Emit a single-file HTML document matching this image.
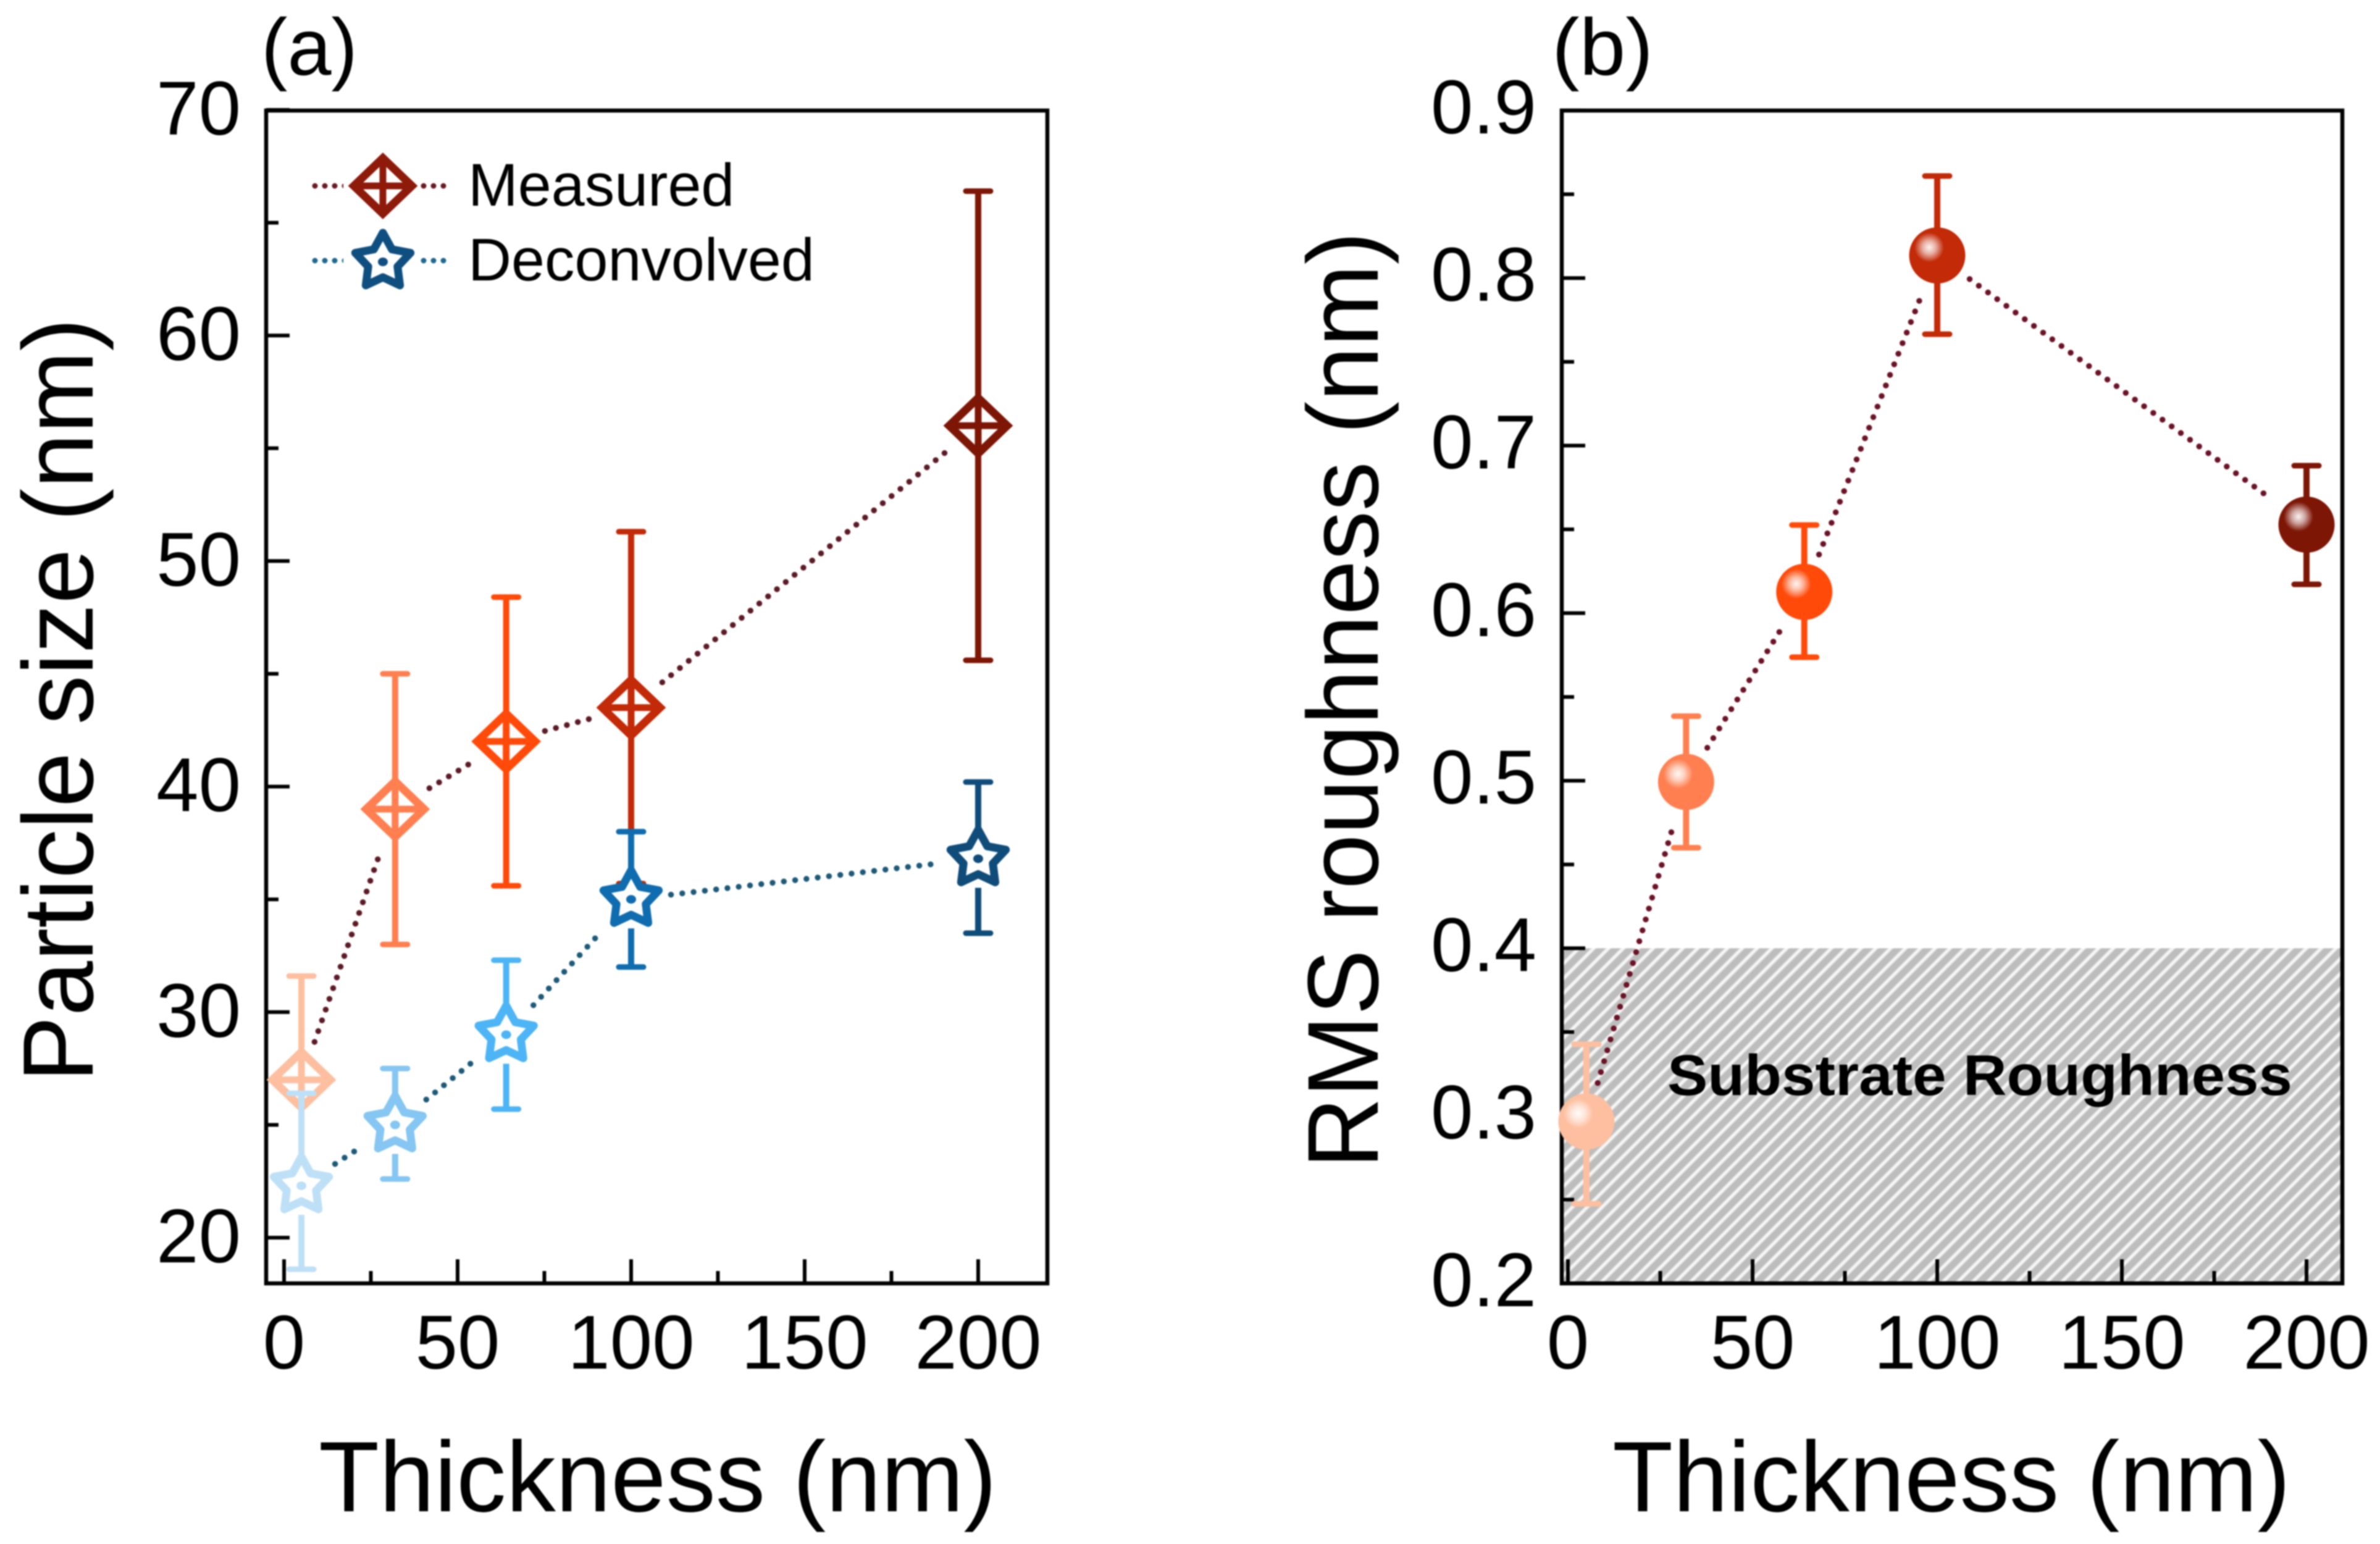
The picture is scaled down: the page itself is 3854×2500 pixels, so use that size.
<!DOCTYPE html>
<html lang="en">
<head>
<meta charset="utf-8">
<title>Particle size and RMS roughness versus thickness</title>
<style>
  html, body { margin: 0; padding: 0; background: #fff; }
  svg { display: block; filter: blur(1px); }
  text { font-family: "Liberation Sans", sans-serif; fill: #000; }
</style>
</head>
<body>
<svg id="figure" xmlns="http://www.w3.org/2000/svg" width="3854" height="2500" viewBox="0 0 3854 2500">
  <defs>
    <pattern id="hatch" patternUnits="userSpaceOnUse" width="17" height="17" patternTransform="rotate(45)">
      <rect width="17" height="17" fill="#bdbdbd"></rect>
      <rect width="7" height="17" fill="#dadada"></rect>
      <rect x="1.5" width="4" height="17" fill="#f6f6f6"></rect>
    </pattern>
    <radialGradient id="shine">
      <stop offset="0" stop-color="#fff" stop-opacity="0.95"></stop>
      <stop offset="0.45" stop-color="#fff" stop-opacity="0.62"></stop>
      <stop offset="1" stop-color="#fff" stop-opacity="0"></stop>
    </radialGradient>
  </defs>
  <rect width="3854" height="2500" fill="#fff"></rect>

  <g id="panel-a">
    <text x="423" y="121" font-size="130" textLength="156" lengthAdjust="spacingAndGlyphs">(a)</text>
    <text transform="translate(150 1752) rotate(-90)" font-size="162" textLength="1237" lengthAdjust="spacingAndGlyphs">Particle size (nm)</text>
    <text x="516" y="2447" font-size="162" textLength="1098" lengthAdjust="spacingAndGlyphs">Thickness (nm)</text>
    <g id="a-axes"></g>
    <g id="a-series"></g>
    <g>
      <line x1="510" y1="301" x2="724" y2="301" stroke="#6b1a22" stroke-width="9" stroke-linecap="round" stroke-dasharray="0 16"></line>
      <line x1="510" y1="422" x2="724" y2="422" stroke="#1d6a8e" stroke-width="9" stroke-linecap="round" stroke-dasharray="0 16"></line>
      <g id="legend-markers"></g>
      <text x="758" y="333" font-size="97">Measured</text>
      <text x="758" y="454" font-size="97">Deconvolved</text>
    </g>
  </g>

  <g id="panel-b">
    <text x="2513" y="121" font-size="130" textLength="164" lengthAdjust="spacingAndGlyphs">(b)</text>
    <text transform="translate(2231 1892) rotate(-90)" font-size="163" textLength="1517" lengthAdjust="spacingAndGlyphs">RMS roughness (nm)</text>
    <text x="2611" y="2447" font-size="162" textLength="1098" lengthAdjust="spacingAndGlyphs">Thickness (nm)</text>
    <g id="b-hatch"></g>
    <g id="b-axes"></g>
    <text x="2700" y="1773" font-size="93" font-weight="700" textLength="1012" lengthAdjust="spacingAndGlyphs">Substrate Roughness</text>
    <g id="b-series"></g>
  </g>
</svg>

<script>
// ---- Panel (a) data ----
const thicknessA = [5, 32, 64, 100, 200];
const measuredSize = [27, 39, 42, 43.5, 56];
const measuredHigh = [31.6, 45, 48.4, 51.3, 66.4];
const measuredLow = [22.4, 33, 35.6, 35.7, 45.6];
const deconvolvedSize = [22.3, 25, 29, 35, 36.8];
const deconvolvedHigh = [26.4, 27.5, 32.3, 38, 40.2];
const deconvolvedLow = [18.6, 22.6, 25.7, 32, 33.5];
const aXMajor = [0, 50, 100, 150, 200];
const aXMinor = [25, 75, 125, 175];
const aYMajor = [20, 30, 40, 50, 60, 70];
const aYMinor = [25, 35, 45, 55, 65];
const aXLabels = ['0', '50', '100', '150', '200'];
const aYLabels = ['20', '30', '40', '50', '60', '70'];

// ---- Panel (b) data ----
const thicknessB = [5, 32, 64, 100, 200];
const roughness = [0.2966, 0.4993, 0.6127, 0.8135, 0.6528];
const roughnessHigh = [0.3427, 0.5385, 0.6526, 0.8609, 0.688];
const roughnessLow = [0.2475, 0.46, 0.5737, 0.7665, 0.6172];
const substrateLimit = 0.4;
const bXMajor = [0, 50, 100, 150, 200];
const bXMinor = [25, 75, 125, 175];
const bYMajor = [0.2, 0.3, 0.4, 0.5, 0.6, 0.7, 0.8, 0.9];
const bYMinor = [0.25, 0.35, 0.45, 0.55, 0.65, 0.75, 0.85];
const bXLabels = ['0', '50', '100', '150', '200'];
const bYLabels = ['0.2', '0.3', '0.4', '0.5', '0.6', '0.7', '0.8', '0.9'];

// ---- Colour ramps ----
const warmRamp = ['#fdbf9f', '#ff7f50', '#ff4a0a', '#c22a08', '#7e1606'];
const coolRamp = ['#bee0f7', '#85c6f2', '#4db5f5', '#0f6cae', '#0f4c7a'];

// ---- Axis functions ----
const ax = v => 460 + 5.62 * v;
const ay = v => 2004 - 36.52 * (v - 20);
const bx = v => 2539 + 5.98 * v;
const by = v => 2078 - 2713 * (v - 0.2);

const NS = 'http://www.w3.org/2000/svg';
function mk(tag, attrs, parent) {
  const el = document.createElementNS(NS, tag);
  for (const k in attrs) el.setAttribute(k, attrs[k]);
  parent.appendChild(el);
  return el;
}

function drawAxes(parent, box, xf, yf, xMaj, xMin, yMaj, yMin, xLab, yLab, labelRight, yShift) {
  xMaj.forEach((v, i) => {
    const t = mk('line', { x1: xf(v), x2: xf(v), y1: box.b, y2: box.b - 39, stroke: '#000', 'stroke-width': 6 }, parent);
    
    
    const l = mk('text', { x: xf(v), y: 2216, 'font-size': 123, 'text-anchor': 'middle' }, parent);
    
    
    l.textContent = xLab[i];
  });
  xMin.forEach(v => {
    const t = mk('line', { x1: xf(v), x2: xf(v), y1: box.b, y2: box.b - 20, stroke: '#000', 'stroke-width': 6 }, parent);
    
    
  });
  yMaj.forEach((v, i) => {
    const t = mk('line', { x1: box.l, x2: box.l + 38, y1: yf(v), y2: yf(v), stroke: '#000', 'stroke-width': 6 }, parent);
    
    
    const l = mk('text', { x: labelRight, y: yf(v) + yShift, 'font-size': 123, 'text-anchor': 'end' }, parent);
    
    
    l.textContent = yLab[i];
  });
  yMin.forEach(v => {
    const t = mk('line', { x1: box.l, x2: box.l + 20, y1: yf(v), y2: yf(v), stroke: '#000', 'stroke-width': 6 }, parent);
    
    
  });
  const frame = mk('rect', { x: box.l, y: box.t, width: box.r - box.l, height: box.b - box.t, fill: 'none', stroke: '#000', 'stroke-width': 6.5 }, parent);
  
  
}

function dottedSegments(parent, xs, ys, xf, yf, colour) {
  for (let i = 0; i < xs.length - 1; i++) {
    const x1 = xf(xs[i]), y1 = yf(ys[i]), x2 = xf(xs[i + 1]), y2 = yf(ys[i + 1]);
    const d = Math.hypot(x2 - x1, y2 - y1);
    const ux = (x2 - x1) / d, uy = (y2 - y1) / d;
    const seg = mk('line', {
      x1: x1 + ux * 65, y1: y1 + uy * 65, x2: x2 - ux * 70, y2: y2 - uy * 70,
      stroke: colour, 'stroke-width': 9.5, 'stroke-linecap': 'round', 'stroke-dasharray': '0 18.4'
    }, parent);
    
    
  }
}

function errorBar(parent, x, yTop, yBottom, yGapTop, yGapBottom, colour) {
  const upper = mk('line', { x1: x, x2: x, y1: yTop, y2: yGapTop, stroke: colour, 'stroke-width': 10 }, parent);
  
  
  const lower = mk('line', { x1: x, x2: x, y1: yGapBottom, y2: yBottom, stroke: colour, 'stroke-width': 10 }, parent);
  
  
  const capTop = mk('line', { x1: x - 20, x2: x + 20, y1: yTop, y2: yTop, stroke: colour, 'stroke-width': 9, 'stroke-linecap': 'round' }, parent);
  
  
  const capBottom = mk('line', { x1: x - 20, x2: x + 20, y1: yBottom, y2: yBottom, stroke: colour, 'stroke-width': 9, 'stroke-linecap': 'round' }, parent);
  
  
}

function diamond(parent, cx, cy, colour) {
  const hw = 47, hh = 45;
  const g = mk('g', {}, parent);
  
  
  mk('path', {
    d: `M${cx} ${cy - hh}L${cx + hw} ${cy}L${cx} ${cy + hh}L${cx - hw} ${cy}Z`,
    fill: 'none', stroke: colour, 'stroke-width': 13, 'stroke-linejoin': 'miter'
  }, g);
  mk('path', {
    d: `M${cx} ${cy - hh}V${cy + hh}M${cx - hw} ${cy}H${cx + hw}`,
    fill: 'none', stroke: colour, 'stroke-width': 11
  }, g);
}

function star(parent, cx, cy, colour) {
  const R = 47, r = 25;
  let d = '';
  for (let i = 0; i < 10; i++) {
    const rad = i % 2 ? r : R;
    const ang = -Math.PI / 2 + i * Math.PI / 5;
    d += (i ? 'L' : 'M') + (cx + rad * Math.cos(ang)) + ' ' + (cy + rad * Math.sin(ang));
  }
  const g = mk('g', {}, parent);
  
  
  mk('path', { d: d + 'Z', fill: '#fff', stroke: colour, 'stroke-width': 13, 'stroke-linejoin': 'round' }, g);
  mk('ellipse', { cx: cx, cy: cy, rx: 8, ry: 7, fill: colour }, g);
}

function sphere(parent, cx, cy, colour) {
  const g = mk('g', {}, parent);
  
  
  mk('circle', { cx: cx, cy: cy, r: 45.5, fill: colour }, g);
  mk('circle', { cx: cx - 13, cy: cy - 13, r: 24, fill: 'url(#shine)' }, g);
}

// ---- Panel (a) ----
const aBox = { l: 431, r: 1696, t: 179, b: 2078 };
drawAxes(document.getElementById('a-axes'), aBox, ax, ay, aXMajor, aXMinor, aYMajor, aYMinor, aXLabels, aYLabels, 390, 40);

const aSeries = document.getElementById('a-series');
dottedSegments(aSeries, thicknessA, measuredSize, ax, ay, '#5c1a26');
thicknessA.forEach((t, i) => {
  errorBar(aSeries, ax(t), ay(measuredHigh[i]), ay(measuredLow[i]), ay(measuredSize[i]), ay(measuredSize[i]), warmRamp[i]);
  diamond(aSeries, ax(t), ay(measuredSize[i]), warmRamp[i]);
});
dottedSegments(aSeries, thicknessA, deconvolvedSize, ax, ay, '#1d5a78');
thicknessA.forEach((t, i) => {
  errorBar(aSeries, ax(t), ay(deconvolvedHigh[i]), ay(deconvolvedLow[i]), ay(deconvolvedSize[i]), ay(deconvolvedSize[i]) + 47, coolRamp[i]);
  star(aSeries, ax(t), ay(deconvolvedSize[i]), coolRamp[i]);
});

const legendMarkers = document.getElementById('legend-markers');
const legendMask = mk('rect', { x: 556, y: 240, width: 124, height: 240, fill: '#fff' }, legendMarkers);


diamond(legendMarkers, 620, 301, '#8e1a0a');
star(legendMarkers, 620, 424, '#0f4f80');

// ---- Panel (b) ----
const bBox = { l: 2529, r: 3793, t: 179, b: 2078 };
const band = mk('rect', {
  x: bBox.l, y: by(substrateLimit), width: bBox.r - bBox.l, height: bBox.b - by(substrateLimit), fill: 'url(#hatch)'
}, document.getElementById('b-hatch'));


drawAxes(document.getElementById('b-axes'), bBox, bx, by, bXMajor, bXMinor, bYMajor, bYMinor, bXLabels, bYLabels, 2488, 37);

const bSeries = document.getElementById('b-series');
dottedSegments(bSeries, thicknessB, roughness, bx, by, '#6b1226');
thicknessB.forEach((t, i) => {
  errorBar(bSeries, bx(t), by(roughnessHigh[i]), by(roughnessLow[i]), by(roughness[i]), by(roughness[i]), warmRamp[i]);
  sphere(bSeries, bx(t), by(roughness[i]), warmRamp[i]);
});
</script>
</body>
</html>
